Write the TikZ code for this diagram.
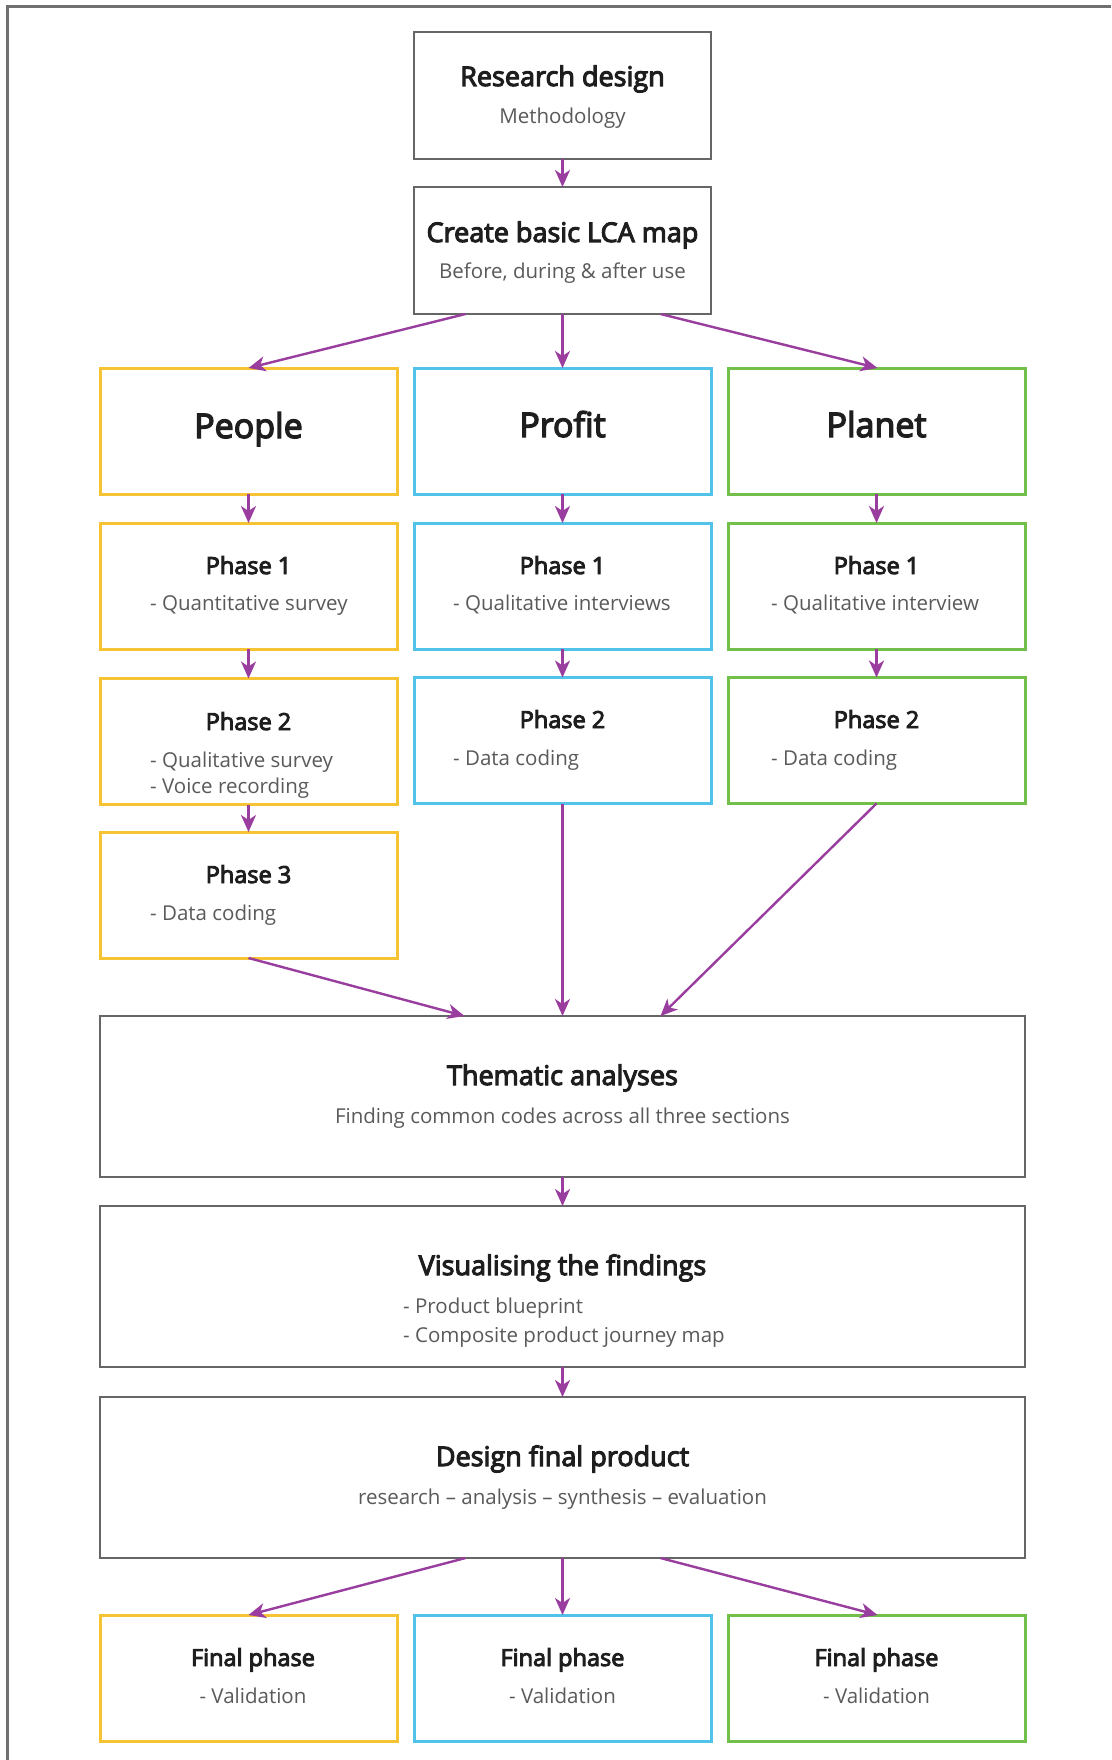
\documentclass[tikz,border=0pt]{standalone}
\usepackage{fontspec}
\setmainfont{Open Sans}
\newfontfamily\semibold{Open Sans}[FakeBold=4]
\usetikzlibrary{arrows.meta,calc}
\definecolor{framegray}{HTML}{707070}
\definecolor{boxgray}{HTML}{666666}
\definecolor{peoplec}{HTML}{F5C334}
\definecolor{profitc}{HTML}{52C3E8}
\definecolor{planetc}{HTML}{72BF4A}
\definecolor{arrowc}{HTML}{993D9E}
\definecolor{titlec}{HTML}{1E1E1E}
\definecolor{subc}{HTML}{5A5A5A}

\begin{document}
\begin{tikzpicture}[x=1pt,y=-1pt,
  box/.style={draw, rectangle, line width=3pt, inner sep=0pt, outer sep=0pt,
              minimum width=297pt, minimum height=126pt},
  gbox/.style={box, draw=boxgray, line width=2.6pt},
  wbox/.style={gbox, minimum width=925pt, minimum height=161pt},
  ybox/.style={box, draw=peoplec},
  bbox/.style={box, draw=profitc},
  pbox/.style={box, draw=planetc},
  ttl/.style={anchor=base, inner sep=0pt, text=titlec, font=\fontsize{27}{32}\semibold},
  big/.style={ttl, font=\fontsize{34}{40}\semibold},
  ph/.style={ttl, font=\fontsize{23.5}{28}\semibold},
  sub/.style={anchor=base, inner sep=0pt, text=subc, font=\fontsize{20.5}{25}\selectfont},
  subl/.style={sub, anchor=base west},
  arr/.style={draw=arrowc, line width=2.4pt,
              -{Stealth[length=17pt, width=15pt, inset=5pt]}}
]
\useasboundingbox (0,0) rectangle (1111,1760);
\fill[white] (0,0) rectangle (1111,1760);

% page frame
\draw[framegray, line width=2.8pt] (1111,6.7) -- (7.5,6.7) -- (7.5,1760);

% top boxes
\node[gbox, minimum height=127pt] (rd)  at (562.5,95.5)  {};
\node[gbox, minimum height=127pt] (lca) at (562.5,250.5) {};
\node[ttl] (rdT)  at (562.5,86)  {Research design};
\node[sub] (rdS)  at (562.5,124) {Methodology};
\node[ttl] (lcaT) at (562.5,242) {Create basic LCA map};
\node[sub] (lcaS) at (562.5,279) {Before, during \& after use};

% three pillars
\node[ybox] (people) at (248.5,431) {};
\node[bbox] (profit) at (562.5,431) {};
\node[pbox] (planet) at (876.5,431) {};
\node[big] (peopleT) at (248.5,438) {People};
\node[big] (profitT) at (562.5,437) {Profit};
\node[big] (planetT) at (876.5,437) {Planet};

% people column
\node[ybox] (pe1) at (248.5,586) {};
\node[ybox] (pe2) at (248.5,741.5) {};
\node[ybox] (pe3) at (248.5,895) {};
\node[ph]   (pe1T) at (248.5,574) {Phase 1};
\node[subl] (pe1S) at (150,610) {- Quantitative survey};
\node[ph]   (pe2T) at (248.5,730) {Phase 2};
\node[subl] (pe2S) at (150,767) {- Qualitative survey};
\node[subl] (pe2U) at (150,793) {- Voice recording};
\node[ph]   (pe3T) at (248.5,883) {Phase 3};
\node[subl] (pe3S) at (150,920) {- Data coding};

% profit column
\node[bbox] (pr1) at (562.5,586) {};
\node[bbox] (pr2) at (562.5,740.5) {};
\node[ph]   (pr1T) at (562.5,574) {Phase 1};
\node[subl] (pr1S) at (453,610) {- Qualitative interviews};
\node[ph]   (pr2T) at (562.5,728) {Phase 2};
\node[subl] (pr2S) at (453,765) {- Data coding};

% planet column
\node[pbox] (pl1) at (876.5,586) {};
\node[pbox] (pl2) at (876.5,740.5) {};
\node[ph]   (pl1T) at (876.5,574) {Phase 1};
\node[subl] (pl1S) at (771,610) {- Qualitative interview};
\node[ph]   (pl2T) at (876.5,728) {Phase 2};
\node[subl] (pl2S) at (771,765) {- Data coding};

% synthesis boxes
\node[wbox] (them) at (562.5,1096.5) {};
\node[ttl]  (themT) at (562.5,1085) {Thematic analyses};
\node[sub]  (themS) at (562.5,1123) {Finding common codes across all three sections};

\node[wbox] (vis) at (562.5,1286.5) {};
\node[ttl]  (visT) at (562.5,1275) {Visualising the findings};
\node[subl] (visS) at (403,1313) {- Product blueprint};
\node[subl] (visU) at (403,1342) {- Composite product journey map};

\node[wbox] (des) at (562.5,1477.5) {};
\node[ttl]  (desT) at (562.5,1466) {Design final product};
\node[sub]  (desS) at (562.5,1504) {research – analysis – synthesis – evaluation};

% final phases
\node[ybox] (fpe) at (248.5,1678) {};
\node[bbox] (fpr) at (562.5,1678) {};
\node[pbox] (fpl) at (876.5,1678) {};
\node[ph]  (fpeT) at (253,1666) {Final phase};
\node[sub] (fpeS) at (253,1703) {- Validation};
\node[ph]  (fprT) at (562.5,1666) {Final phase};
\node[sub] (fprS) at (562.5,1703) {- Validation};
\node[ph]  (fplT) at (876.5,1666) {Final phase};
\node[sub] (fplS) at (876.5,1703) {- Validation};

% connectors
\draw[arr] (rd) -- (lca);
\draw[arr] ($(lca.south)+(-97,0)$) -- (people.north);
\draw[arr] (lca) -- (profit);
\draw[arr] ($(lca.south)+(98,0)$) -- ($(planet.north)+(1,0)$);

\draw[arr] (people) -- (pe1);
\draw[arr] (pe1) -- (pe2);
\draw[arr] (pe2) -- (pe3);
\draw[arr] (profit) -- (pr1);
\draw[arr] (pr1) -- (pr2);
\draw[arr] (planet) -- (pl1);
\draw[arr] (pl1) -- (pl2);

\draw[arr] (pe3.south) -- ($(them.north)+(-98,0)$);
\draw[arr] (pr2) -- (them);
\draw[arr] (pl2.south) -- ($(them.north)+(98,0)$);

\draw[arr] (them) -- (vis);
\draw[arr] (vis) -- (des);

\draw[arr] ($(des.south)+(-97,0)$) -- (fpe.north);
\draw[arr] (des) -- (fpr);
\draw[arr] ($(des.south)+(98,0)$) -- ($(fpl.north)+(1,0)$);
\end{tikzpicture}
\end{document}
